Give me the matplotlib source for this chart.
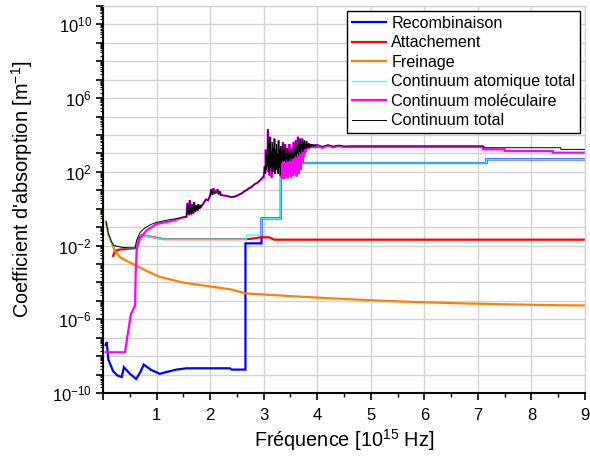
import numpy as np
import matplotlib
matplotlib.use("Agg")
import matplotlib.pyplot as plt
from matplotlib.ticker import FixedLocator, FuncFormatter, LogLocator, NullFormatter, MultipleLocator

plt.rcParams['font.family'] = ['Liberation Sans', 'DejaVu Sans']
plt.rcParams['mathtext.fontset'] = 'custom'
plt.rcParams['mathtext.rm'] = 'Liberation Sans'
plt.rcParams['mathtext.it'] = 'Liberation Sans:italic'
plt.rcParams['mathtext.bf'] = 'Liberation Sans:bold'

# ---------------- data (log10 of absorption coefficient, m^-1) ----------------
recomb_x = [0.05, 0.07, 0.10, 0.19, 0.27, 0.35, 0.39, 0.50, 0.62, 0.70, 0.76, 0.90,
            1.06, 1.20, 1.37, 1.56, 2.37, 2.40, 2.66, 2.66, 2.96, 2.96, 3.32, 3.32,
            7.16, 7.16, 9.0]
recomb_log = [-7.40, -7.24, -8.19, -8.82, -9.05, -9.13, -8.60, -8.95, -9.24, -8.85, -8.46, -8.75,
              -8.96, -8.85, -8.73, -8.66, -8.66, -8.73, -8.73, -1.88, -1.88, -0.52, -0.52, 2.48,
              2.48, 2.68, 2.68]

attach_x = [0.19, 0.22, 0.30, 0.45, 0.60, 0.66, 0.72, 0.85, 1.00, 1.12, 2.70, 2.85, 2.95,
            3.10, 3.20, 9.0]
attach_log = [-2.56, -2.30, -2.22, -2.18, -2.14, -1.60, -1.43, -1.50, -1.58, -1.65, -1.65,
              -1.60, -1.55, -1.55, -1.68, -1.68]

brems_x = [0.056, 0.08, 0.10, 0.13, 0.16, 0.22, 0.32, 0.44, 0.60, 0.81, 1.06, 1.50, 2.00,
           2.37, 2.68, 3.49, 4.23, 5.17, 5.79, 6.63, 7.56, 8.52, 9.0]
brems_log = [-0.70, -1.05, -1.37, -1.62, -1.83, -2.28, -2.64, -2.83, -3.06, -3.37, -3.70,
             -4.01, -4.22, -4.37, -4.60, -4.74, -4.86, -4.99, -5.06, -5.13, -5.19, -5.24, -5.25]

atom_x = [0.056, 0.10, 0.16, 0.20, 0.37, 0.60, 0.66, 0.75, 1.09, 2.68, 2.68, 2.96, 2.96,
          3.32, 3.32, 7.16, 7.16, 9.0]
atom_log = [-0.70, -1.35, -1.80, -2.00, -2.10, -2.14, -1.47, -1.45, -1.65, -1.65, -1.43,
            -1.43, -0.52, -0.52, 2.48, 2.48, 2.68, 2.68]

# molecular continuum: smooth low-frequency part
mol_low_x = [0.05, 0.41, 0.52, 0.60, 0.61, 0.63, 0.69, 0.81, 1.00, 1.31, 1.50]
mol_low_log = [-7.79, -7.79, -5.73, -5.24, -3.50, -2.19, -1.61, -1.19, -0.83, -0.65, -0.46]

# structured band region 1.56 - 2.98 (common to molecular and total)
band_x = [1.56, 1.57, 1.58, 1.59, 1.60, 1.61, 1.62, 1.63, 1.64, 1.65, 1.66, 1.67, 1.68,
          1.69, 1.70, 1.71, 1.72, 1.73, 1.74, 1.75, 1.76, 1.77, 1.78, 1.79, 1.80, 1.81,
          1.82, 1.83, 1.84, 1.88, 1.92, 1.96, 2.00, 2.02, 2.04, 2.06, 2.08, 2.10, 2.12,
          2.14, 2.16, 2.18, 2.20, 2.25, 2.30, 2.35, 2.40, 2.45, 2.50, 2.55, 2.60, 2.64,
          2.68, 2.72, 2.76, 2.80, 2.84, 2.88, 2.92, 2.96, 2.98]
band_log = [-0.44, 0.10, 0.30, -0.30, 0.20, -0.35, 0.45, -0.20, 0.10, -0.30, 0.25, -0.20,
            0.15, -0.25, 0.35, -0.10, 0.10, -0.15, 0.20, -0.05, 0.15, -0.10, 0.25, 0.00,
            0.15, 0.02, 0.20, 0.08, 0.15, 0.30, 0.50, 0.45, 0.70, 1.05, 0.75, 1.10, 0.80,
            1.00, 0.85, 1.05, 0.78, 0.95, 0.75, 0.72, 0.70, 0.66, 0.63, 0.65, 0.70, 0.78,
            0.85, 0.95, 1.00, 1.10, 1.15, 1.25, 1.35, 1.40, 1.50, 1.62, 1.70]

# strongly structured region 3.00 - 4.00 (step 0.01)
spike_x = np.round(np.arange(3.00, 4.0001, 0.01), 2)
total_spike_log = [1.70, 2.00, 2.30, 1.90, 3.20, 2.10, 3.00, 2.30, 4.30, 2.00,
                   3.60, 1.80, 3.90, 2.20, 3.10, 1.70, 3.60, 2.00, 3.30, 2.30,
                   3.80, 1.90, 3.20, 2.10, 3.50, 2.40, 3.00, 1.90, 3.70, 2.20,
                   3.20, 1.80, 3.40, 2.50, 3.10, 2.60, 3.60, 2.55, 3.20, 2.60,
                   3.50, 2.50, 3.00, 2.70, 3.30, 2.55, 3.10, 2.60, 3.50, 2.70,
                   3.20, 2.60, 3.30, 2.80, 3.00, 2.70, 3.60, 2.80, 3.30, 2.90,
                   3.70, 2.80, 3.40, 3.00, 3.90, 2.90, 3.50, 3.10, 3.80, 3.00,
                   3.50, 3.20, 3.80, 3.10, 3.60, 3.20, 3.70, 3.25, 3.50, 3.30,
                   3.65, 3.30, 3.50, 3.35, 3.55, 3.30, 3.50, 3.38, 3.52, 3.35,
                   3.48, 3.40, 3.50, 3.38, 3.47, 3.40, 3.48, 3.42, 3.47, 3.43,
                   3.48]
mol_spike_log = [1.70, 2.00, 2.30, 1.90, 3.20, 2.10, 3.00, 2.30, 4.30, 2.00,
                 3.60, 1.80, 3.90, 2.20, 3.10, 1.70, 3.60, 2.00, 3.30, 2.30,
                 3.80, 1.90, 3.20, 2.10, 3.50, 2.40, 3.00, 1.90, 3.70, 2.20,
                 3.20, 1.80, 3.40, 1.70, 3.10, 2.00, 3.60, 1.60, 3.20, 1.90,
                 3.50, 1.70, 3.00, 2.10, 3.30, 1.65, 3.10, 1.90, 3.50, 2.00,
                 3.20, 1.70, 3.30, 2.10, 3.00, 1.80, 3.60, 2.20, 3.30, 1.90,
                 3.70, 1.75, 3.40, 2.20, 3.90, 1.90, 3.50, 2.40, 3.80, 2.10,
                 3.50, 2.60, 3.80, 2.50, 3.60, 2.80, 3.70, 3.00, 3.50, 3.10,
                 3.65, 3.20, 3.50, 3.25, 3.55, 3.25, 3.50, 3.30, 3.50, 3.30,
                 3.45, 3.35, 3.45, 3.33, 3.42, 3.35, 3.42, 3.36, 3.40, 3.37,
                 3.40]

# high-frequency plateau
mol_high_x = [4.00, 4.10, 4.20, 4.30, 4.40, 4.50, 4.60, 7.10, 7.10, 7.50, 7.50, 8.40, 8.40, 9.0]
mol_high_log = [3.38, 3.30, 3.42, 3.33, 3.40, 3.34, 3.35, 3.35, 3.22, 3.22, 3.13, 3.13, 3.04, 3.04]

total_low_x = [0.056, 0.10, 0.16, 0.20, 0.25, 0.37, 0.60, 0.63, 0.69, 0.78, 0.90, 1.00,
               1.20, 1.40, 1.50]
total_low_log = [-0.70, -1.35, -1.80, -2.00, -2.03, -2.10, -2.14, -1.70, -1.30, -1.05,
                 -0.85, -0.74, -0.62, -0.52, -0.46]
total_high_x = [4.00, 4.10, 4.20, 4.30, 4.40, 4.50, 4.60, 7.10, 7.10, 8.55, 8.55, 9.0]
total_high_log = [3.48, 3.38, 3.47, 3.39, 3.45, 3.40, 3.41, 3.41, 3.31, 3.31, 3.22, 3.22]

labels = ["Recombinaison", "Attachement", "Freinage", "Continuum atomique total",
          "Continuum moléculaire", "Continuum total"]
colors = ["#0000ff", "#ff0000", "#ff8000", "#33ffff", "#ff00ff", "#000000"]

mol_x = list(mol_low_x) + band_x + list(spike_x) + mol_high_x
mol_log = mol_low_log + band_log + mol_spike_log + mol_high_log
tot_x = total_low_x + band_x + list(spike_x) + total_high_x
tot_log = total_low_log + band_log + total_spike_log + total_high_log

# ---------------- figure ----------------
fig = plt.figure(figsize=(5.9, 4.66), dpi=100)
ax = fig.add_axes([103 / 590, 73 / 466, 482 / 590, 387 / 466])

series = [
    (recomb_x, recomb_log, 1.6),
    (attach_x, attach_log, 1.6),
    (brems_x, brems_log, 1.6),
    (atom_x, atom_log, 1.0),
    (mol_x, mol_log, 1.6),
    (tot_x, tot_log, 0.7),
]
for (xs, ls, lw), lab, col in zip(series, labels, colors):
    ax.plot(xs, 10.0 ** np.asarray(ls), color=col, lw=lw, label=lab, solid_joinstyle='miter')

ax.set_yscale('log')
ax.set_xlim(0, 9)
ax.set_ylim(1e-10, 1e11)

ax.xaxis.set_major_locator(MultipleLocator(1))
ax.xaxis.set_minor_locator(MultipleLocator(0.5))
ax.xaxis.set_major_formatter(FuncFormatter(lambda v, p: "" if abs(v) < 1e-9 else "%d" % round(v)))

ax.yaxis.set_major_locator(FixedLocator([10.0 ** k for k in range(-10, 12)]))
def yfmt(v, p):
    k = int(round(np.log10(v)))
    if (k + 10) % 4 == 0 and k <= 10:
        return r"$10^{%d}$" % k
    return ""
ax.yaxis.set_major_formatter(FuncFormatter(yfmt))
ax.yaxis.set_minor_locator(LogLocator(base=10, subs=np.arange(2, 10), numticks=100))
ax.yaxis.set_minor_formatter(NullFormatter())

ax.grid(True, which='major', color='#d3d3d3', lw=1.0)
ax.set_axisbelow(True)
for s in ['top', 'right']:
    ax.spines[s].set_color('#d3d3d3')
    ax.spines[s].set_linewidth(1.0)
for s in ['left', 'bottom']:
    ax.spines[s].set_color('black')
    ax.spines[s].set_linewidth(1.5)

ax.tick_params(axis='both', which='major', direction='out', length=5, width=1.2,
               labelsize=12, colors='black', top=False, right=False)
ax.tick_params(axis='y', which='minor', direction='out', length=2.5, width=0.8, right=False)
ax.tick_params(axis='x', which='minor', direction='out', length=3, width=1.0, top=False)
ax.tick_params(axis='x', which='major', pad=6)
ax.tick_params(axis='y', which='major', pad=3)

ax.set_xlabel("Fréquence [10$^{15}$ Hz]", fontsize=14.3, labelpad=3)
ax.set_ylabel("Coefficient d'absorption [m$^{\\mathrm{-1}}$]", fontsize=14.3)
ax.yaxis.set_label_coords(-0.141, 0.527)

leg = ax.legend(loc='upper right', fontsize=11.6, frameon=True, fancybox=False,
                edgecolor='black', framealpha=1, borderpad=0.3, labelspacing=0.28,
                handlelength=2.1, handletextpad=0.35, borderaxespad=0.3)
leg.get_frame().set_linewidth(1.0)

fig.savefig("out.png", dpi=100)
